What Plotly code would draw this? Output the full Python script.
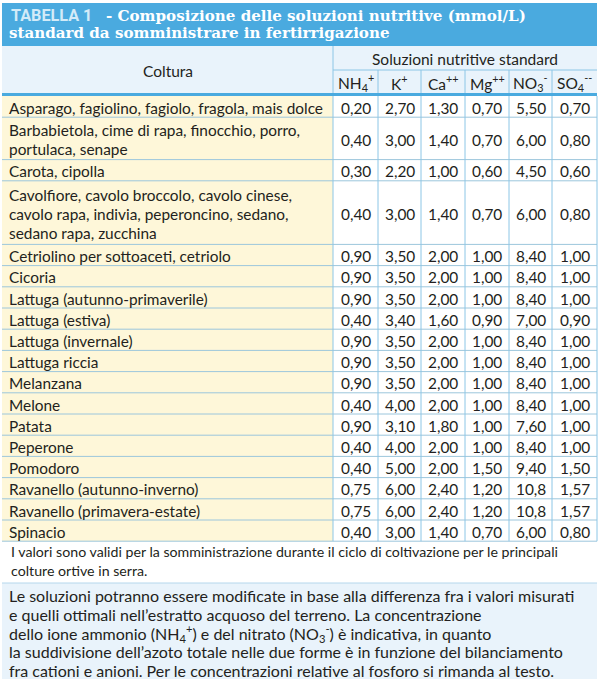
import plotly.graph_objects as go

# ---------------- data ----------------
crops = [
    "Asparago, fagiolino, fagiolo, fragola, mais dolce",
    "Barbabietola, cime di rapa, finocchio, porro,<br>portulaca, senape",
    "Carota, cipolla",
    "Cavolfiore, cavolo broccolo, cavolo cinese,<br>cavolo rapa, indivia, peperoncino, sedano,<br>sedano rapa, zucchina",
    "Cetriolino per sottoaceti, cetriolo",
    "Cicoria",
    "Lattuga (autunno-primaverile)",
    "Lattuga (estiva)",
    "Lattuga (invernale)",
    "Lattuga riccia",
    "Melanzana",
    "Melone",
    "Patata",
    "Peperone",
    "Pomodoro",
    "Ravanello (autunno-inverno)",
    "Ravanello (primavera-estate)",
    "Spinacio",
]
nh4 = [0.20, 0.40, 0.30, 0.40, 0.90, 0.90, 0.90, 0.40, 0.90, 0.90, 0.90, 0.40, 0.90, 0.40, 0.40, 0.75, 0.75, 0.40]
k   = [2.70, 3.00, 2.20, 3.00, 3.50, 3.50, 3.50, 3.40, 3.50, 3.50, 3.50, 4.00, 3.10, 4.00, 5.00, 6.00, 6.00, 3.00]
ca  = [1.30, 1.40, 1.00, 1.40, 2.00, 2.00, 2.00, 1.60, 2.00, 2.00, 2.00, 2.00, 1.80, 2.00, 2.00, 2.40, 2.40, 1.40]
mg  = [0.70, 0.70, 0.60, 0.70, 1.00, 1.00, 1.00, 0.90, 1.00, 1.00, 1.00, 1.00, 1.00, 1.00, 1.50, 1.20, 1.20, 0.70]
no3 = [5.50, 6.00, 4.50, 6.00, 8.40, 8.40, 8.40, 7.00, 8.40, 8.40, 8.40, 8.40, 7.60, 8.40, 9.40, 10.8, 10.8, 6.00]
so4 = [0.70, 0.80, 0.60, 0.80, 1.00, 1.00, 1.00, 0.90, 1.00, 1.00, 1.00, 1.00, 1.00, 1.00, 1.50, 1.57, 1.57, 0.80]

ion_labels = ["NH<sub>4</sub><sup>+</sup>", "K<sup>+</sup>", "Ca<sup>++</sup>",
              "Mg<sup>++</sup>", "NO<sub>3</sub><sup>-</sup>", "SO<sub>4</sub><sup>--</sup>"]
series = [nh4, k, ca, mg, no3, so4]

title_tag = "TABELLA 1"
title_l1 = "- Composizione delle soluzioni nutritive (mmol/L)"
title_l2 = "standard da somministrare in fertirrigazione"
head_crop = "Coltura"
head_group = "Soluzioni nutritive standard"
footnote = ("I valori sono validi per la somministrazione durante il ciclo di coltivazione per le principali<br>"
            "colture ortive in serra.")
boxnote = ("Le soluzioni potranno essere modificate in base alla differenza fra i valori misurati<br>"
           "e quelli ottimali nell’estratto acquoso del terreno. La concentrazione<br>"
           "dello ione ammonio (NH<sub>4</sub><sup>+</sup>) e del nitrato (NO<sub>3</sub><sup>-</sup>) è indicativa, in quanto<br>"
           "la suddivisione dell’azoto totale nelle due forme è in funzione del bilanciamento<br>"
           "fra cationi e anioni. Per le concentrazioni relative al fosforo si rimanda al testo.")

# ---------------- layout / style ----------------
W, H = 600, 679
FONT = "Lato"
SERIF = "DejaVu Serif"
TXT = "#231f20"
BLUE = "#4aaadf"
TAG = "#d3ebf8"
HEAD_BG = "#e9f3fb"
YELLOW = "#fef7d9"
GRID = "#8cc6e6"
ROWLINE = "#9cc6dc"

col_edges = [2, 333, 378, 421, 465, 509, 552, 597]
x0, x1 = col_edges[0], col_edges[-1]
title_top, title_bot = 3, 46
head_top, head_mid, head_bot = 46, 70, 93
body_top = 96
row_unit, line_step = 21.2, 19
BODY_SIZE = 15.4
TITLE_SIZE = 15.1

def fmt(v):
    return (f"{v:.1f}" if v >= 10 else f"{v:.2f}").replace(".", ",")

shapes = []
ann = []

def rect(xa, ya, xb, yb, color):
    shapes.append(dict(type="rect", xref="x", yref="y", x0=xa, y0=ya, x1=xb, y1=yb,
                       fillcolor=color, line=dict(width=0), layer="below"))

def line(xa, ya, xb, yb, color, w=1):
    shapes.append(dict(type="line", xref="x", yref="y", x0=xa, y0=ya, x1=xb, y1=yb,
                       line=dict(color=color, width=w)))

def text(x, y, s, size, xanchor="center", color=TXT, family=FONT):
    ann.append(dict(x=x, y=y, xref="x", yref="y", text=s, showarrow=False,
                    xanchor=xanchor, yanchor="middle", align=xanchor,
                    font=dict(family=family, size=size, color=color)))

def multitext(x, yc, s, size, step, xanchor="left"):
    parts = s.split("<br>")
    n = len(parts)
    for i, p in enumerate(parts):
        text(x, yc + (i - (n - 1) / 2) * step, p, size, xanchor=xanchor)

# title band
rect(x0, title_top, x1, title_bot, BLUE)
text(9, 15, f"<b>{title_tag}</b>", 16.2, xanchor="left", color=TAG, family="Roboto")
text(104, 15.5, f"<b>{title_l1}</b>", TITLE_SIZE, xanchor="left", color="white", family=SERIF)
text(7, 32.5, f"<b>{title_l2}</b>", TITLE_SIZE, xanchor="left", color="white", family=SERIF)

# header
rect(x0, head_top, x1, head_bot, HEAD_BG)
text((col_edges[0] + col_edges[1]) / 2, (head_top + head_bot) / 2 + 1, head_crop, 15.5)
text((col_edges[1] + x1) / 2, (head_top + head_mid) / 2 + 1, head_group, 15.5)
line(col_edges[1], head_top, col_edges[1], head_bot, GRID)
line(col_edges[1], head_mid, x1, head_mid, GRID)
for i, lab in enumerate(ion_labels):
    cx = (col_edges[i + 1] + col_edges[i + 2]) / 2
    text(cx, (head_mid + head_bot) / 2 + 1, lab, 15.5)
    if i > 0:
        line(col_edges[i + 1], head_mid, col_edges[i + 1], head_bot, GRID)
line(x0, (head_bot + body_top) / 2, x1, (head_bot + body_top) / 2, BLUE, 3)

# body
y = body_top
tops = []
for name in crops:
    n = name.count("<br>") + 1
    h = row_unit * n
    tops.append((y, y + h))
    y += h
body_bot = y
rect(col_edges[0], body_top, col_edges[1], body_bot, YELLOW)
for (ya, yb), name, r in zip(tops, crops, range(len(crops))):
    cy = (ya + yb) / 2 + 1.2
    multitext(7, cy, name, BODY_SIZE, line_step)
    for j, s in enumerate(series):
        cx = (col_edges[j + 1] + col_edges[j + 2]) / 2
        text(cx, cy, fmt(s[r]), BODY_SIZE)
    line(x0, yb, x1, yb, ROWLINE)
for xe in col_edges[1:]:
    line(xe, body_top, xe, body_bot, GRID)

# footnote
multitext(9, body_bot + 20, footnote, 14.2, 18.5)

# bottom box
box_top = 583
rect(x0, box_top, x1, H, HEAD_BG)
line(x0, box_top, x1, box_top, "#b5d7ec")
multitext(7, (box_top + H) / 2 + 2, boxnote, 16, 18.8)

fig = go.Figure()
fig.add_trace(go.Scatter(x=[0, W], y=[0, H], mode="markers", marker=dict(opacity=0),
                         hoverinfo="skip", showlegend=False))
fig.update_layout(
    width=W, height=H, margin=dict(l=0, r=0, t=0, b=0),
    paper_bgcolor="white", plot_bgcolor="white",
    xaxis=dict(range=[0, W], visible=False, fixedrange=True),
    yaxis=dict(range=[H, 0], visible=False, fixedrange=True),
    shapes=shapes, annotations=ann, showlegend=False,
)
fig.write_html("out.html", config={"displayModeBar": False},
               post_script="document.body.style.margin='0';document.body.style.overflow='hidden';")
